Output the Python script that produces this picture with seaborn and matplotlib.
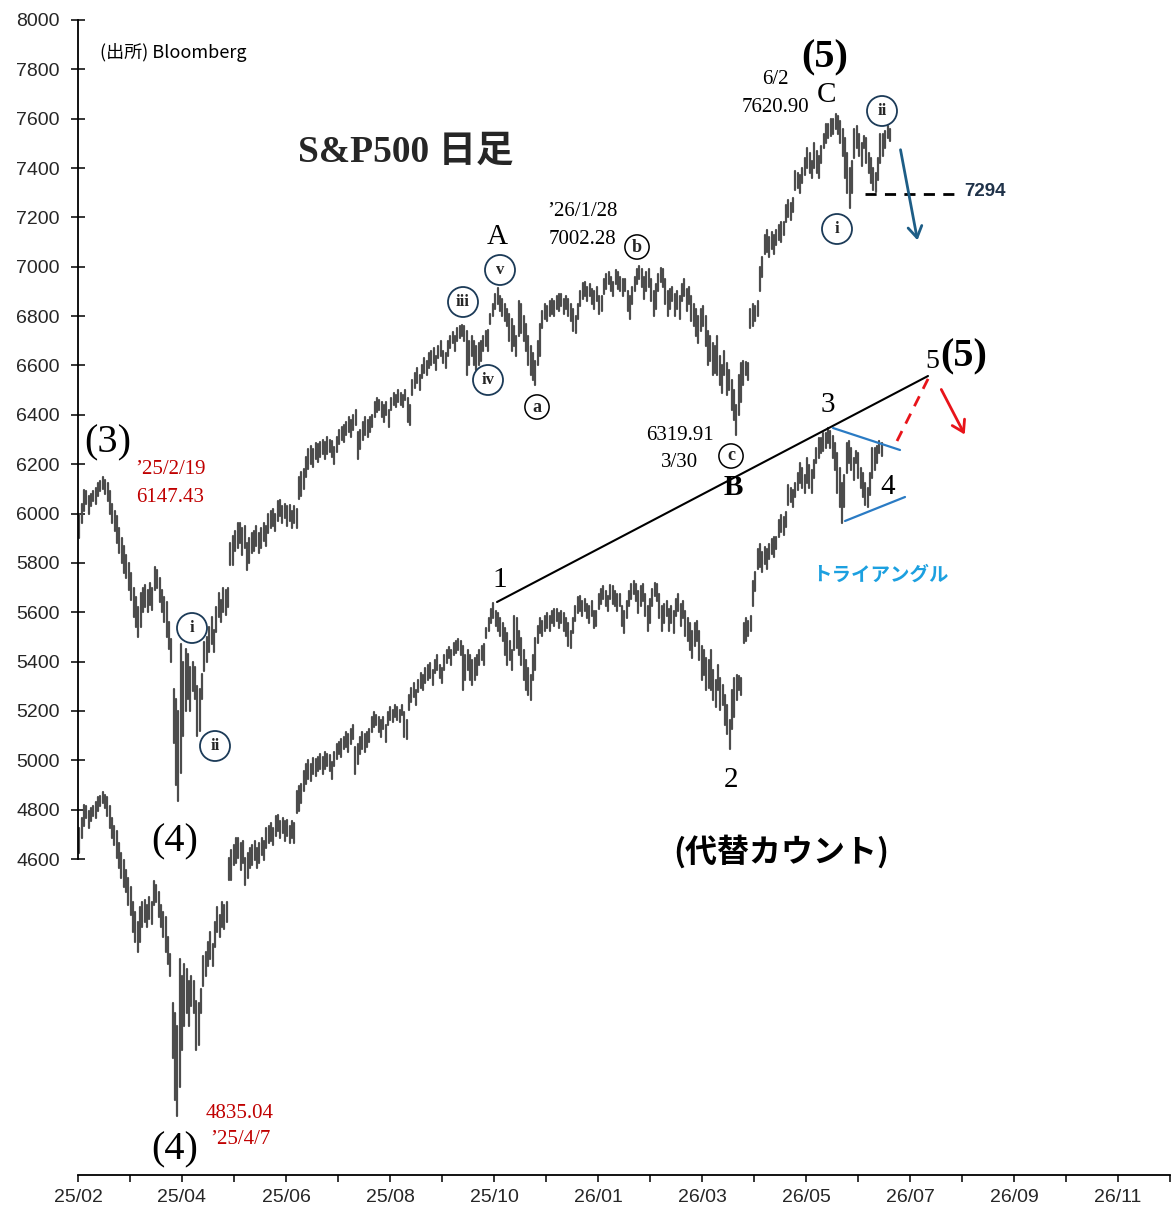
import numpy as np
import pandas as pd
import matplotlib
matplotlib.use("Agg")
import matplotlib.pyplot as plt
import seaborn as sns

# ---------------- data (daily high / low of the index) ----------------
LOW = [5900, 5960, 6010, 6040, 6000, 6030, 6050, 6040, 6070, 6090,
       6100, 6080, 6050, 6000, 5960, 5930, 5880, 5840, 5800, 5760,
       5740, 5690, 5650, 5580, 5540, 5500, 5540, 5600, 5620, 5600,
       5630, 5610, 5690, 5700, 5640, 5600, 5560, 5500, 5450, 5400,
       5070, 4900, 4835, 4950, 5100, 5200, 5250, 5200, 5280, 5250,
       5100, 5120, 5250, 5360, 5400, 5440, 5470, 5440, 5520, 5580,
       5560, 5600, 5590, 5620, 5790, 5790, 5850, 5860, 5880, 5830,
       5860, 5770, 5800, 5840, 5850, 5870, 5840, 5860, 5890, 5870,
       5920, 5940, 5950, 5930, 5970, 5990, 5960, 5980, 5950, 5970,
       5940, 5960, 5940, 6060, 6070, 6100, 6150, 6180, 6200, 6190,
       6220, 6210, 6230, 6240, 6220, 6240, 6250, 6230, 6200, 6250,
       6280, 6300, 6290, 6320, 6330, 6310, 6340, 6360, 6220, 6260,
       6300, 6320, 6310, 6330, 6350, 6390, 6410, 6420, 6390, 6370,
       6400, 6350, 6420, 6440, 6430, 6450, 6440, 6430, 6460, 6370,
       6360, 6480, 6510, 6530, 6500, 6550, 6570, 6560, 6590, 6600,
       6610, 6580, 6630, 6640, 6610, 6590, 6640, 6670, 6690, 6660,
       6700, 6710, 6720, 6700, 6560, 6600, 6640, 6600, 6580, 6600,
       6620, 6660, 6680, 6660, 6770, 6800, 6830, 6850, 6820, 6800,
       6780, 6760, 6700, 6660, 6680, 6640, 6720, 6730, 6700, 6660,
       6600, 6560, 6540, 6521, 6600, 6640, 6750, 6790, 6780, 6800,
       6810, 6800, 6830, 6820, 6840, 6810, 6830, 6800, 6780, 6740,
       6730, 6790, 6840, 6870, 6880, 6860, 6880, 6850, 6830, 6860,
       6810, 6820, 6890, 6910, 6930, 6900, 6880, 6930, 6910, 6900,
       6880, 6900, 6820, 6790, 6850, 6900, 6930, 6950, 6920, 6870,
       6900, 6920, 6860, 6800, 6830, 6900, 6940, 6920, 6850, 6800,
       6830, 6860, 6800, 6830, 6790, 6860, 6880, 6820, 6850, 6780,
       6760, 6720, 6690, 6740, 6760, 6680, 6600, 6620, 6560, 6570,
       6560, 6520, 6490, 6560, 6480, 6500, 6420, 6380, 6320, 6400,
       6450, 6520, 6560, 6540, 6750, 6760, 6780, 6800, 6900, 6960,
       7050, 7060, 7040, 7070, 7050, 7090, 7110, 7100, 7130, 7180,
       7200, 7190, 7220, 7310, 7320, 7300, 7340, 7370, 7400, 7380,
       7360, 7400, 7380, 7360, 7420, 7480, 7500, 7520, 7530, 7540,
       7560, 7540, 7500, 7450, 7360, 7300, 7238, 7300, 7440, 7480,
       7450, 7410, 7480, 7420, 7380, 7340, 7310, 7303, 7350, 7420,
       7450, 7480, 7520, 7510]
HIGH = [6000, 6040, 6095, 6090, 6070, 6080, 6090, 6105, 6125, 6130,
        6147, 6135, 6125, 6090, 6040, 6010, 5990, 5940, 5900, 5870,
        5830, 5800, 5760, 5700, 5660, 5620, 5680, 5700, 5710, 5690,
        5720, 5700, 5785, 5770, 5740, 5690, 5660, 5640, 5560, 5490,
        5290, 5250, 5200, 5470, 5400, 5450, 5430, 5380, 5400, 5380,
        5300, 5290, 5350, 5480, 5500, 5540, 5580, 5530, 5620, 5680,
        5650, 5700, 5690, 5700, 5880, 5910, 5930, 5960, 5960, 5940,
        5950, 5880, 5900, 5920, 5930, 5950, 5920, 5940, 5960, 5950,
        6000, 6010, 6020, 6000, 6050, 6055, 6030, 6040, 6030, 6035,
        6010, 6030, 6020, 6150, 6170, 6180, 6230, 6260, 6275, 6260,
        6285, 6280, 6290, 6300, 6290, 6310, 6300, 6295, 6270, 6310,
        6340, 6350, 6360, 6370, 6390, 6380, 6400, 6420, 6330, 6340,
        6370, 6390, 6380, 6390, 6400, 6450, 6470, 6460, 6450, 6440,
        6450, 6420, 6470, 6490, 6480, 6500, 6490, 6480, 6500, 6470,
        6440, 6540, 6570, 6590, 6560, 6600, 6630, 6620, 6650, 6660,
        6670, 6640, 6680, 6700, 6660, 6650, 6700, 6720, 6735, 6720,
        6750, 6760, 6765, 6760, 6740, 6700, 6720, 6700, 6680, 6690,
        6700, 6720, 6740, 6745, 6810, 6850, 6890, 6914, 6880, 6870,
        6850, 6830, 6810, 6790, 6760, 6720, 6860, 6850, 6800, 6770,
        6720, 6680, 6650, 6620, 6700, 6770, 6820, 6850, 6840, 6860,
        6870, 6860, 6880, 6890, 6890, 6870, 6880, 6870, 6850, 6830,
        6800, 6850, 6900, 6935, 6940, 6920, 6930, 6910, 6900, 6920,
        6880, 6880, 6950, 6970, 6980, 6960, 6940, 6985, 6980, 6960,
        6950, 6950, 6900, 6880, 6920, 6960, 6990, 7002, 6990, 6960,
        6980, 6990, 6950, 6900, 6930, 6970, 6995, 6990, 6950, 6900,
        6910, 6920, 6890, 6900, 6880, 6930, 6950, 6910, 6920, 6880,
        6850, 6830, 6800, 6830, 6840, 6800, 6740, 6720, 6690, 6680,
        6720, 6640, 6600, 6660, 6610, 6580, 6540, 6500, 6440, 6560,
        6610, 6620, 6615, 6610, 6830, 6850, 6840, 6860, 7000, 7040,
        7130, 7150, 7120, 7140, 7130, 7150, 7170, 7180, 7180, 7250,
        7270, 7260, 7280, 7390, 7380, 7370, 7400, 7440, 7480, 7460,
        7430, 7500, 7470, 7450, 7490, 7540, 7580, 7580, 7600, 7600,
        7621, 7610, 7590, 7560, 7520, 7460, 7400, 7430, 7560, 7570,
        7540, 7500, 7530, 7520, 7460, 7440, 7400, 7380, 7440, 7540,
        7540, 7550, 7570, 7560]
ALT_OFFSET = 1275          # the alternate count copy is the same path shifted down
TICK_LABELS = ["25/02", "25/04", "25/06", "25/08", "25/10", "26/01",
               "26/03", "26/05", "26/07", "26/09", "26/11"]
Y_TICKS = list(range(4600, 8001, 200))

# ---------------- figure ----------------
sns.set_theme(style="white")
plt.rcParams["font.family"] = ["Liberation Sans", "Noto Sans CJK JP", "DejaVu Sans"]

W, H = 1173, 1213
fig = plt.figure(figsize=(W / 100, H / 100), dpi=100)
ax = fig.add_axes([78 / W, 38 / H, 1092 / W, 1155 / H])

BARS_PER_TICK = 44
n = len(HIGH)
rows = []
for i in range(n):
    xm = i + 0.5
    xa = (i + 0.5) * 0.99
    rows += [(xm, LOW[i], f"m{i}"), (xm, HIGH[i], f"m{i}"),
             (xa, LOW[i] - ALT_OFFSET, f"a{i}"), (xa, HIGH[i] - ALT_OFFSET, f"a{i}")]
df = pd.DataFrame(rows, columns=["x", "price", "bar"])
sns.lineplot(data=df, x="x", y="price", units="bar", estimator=None, sort=False,
             color="#4c4c4c", linewidth=1.6, ax=ax, legend=False)

ax.set_xlim(0, 462)
ax.set_ylim(3319.5, 8000)
ax.set_xlabel("")
ax.set_ylabel("")
ax.set_xticks([k * BARS_PER_TICK for k in range(len(TICK_LABELS))])
ax.set_xticklabels(TICK_LABELS, fontsize=14)
ax.set_xticks([BARS_PER_TICK / 2 + k * BARS_PER_TICK for k in range(len(TICK_LABELS))], minor=True)
ax.set_yticks(Y_TICKS)
ax.set_yticklabels([str(v) for v in Y_TICKS], fontsize=14)
ax.tick_params(axis="y", which="both", direction="inout", length=10, width=1.3, pad=8, left=True)
ax.tick_params(axis="x", which="both", direction="out", length=5, width=1.3, pad=5, bottom=True)
for s in ["top", "right"]:
    ax.spines[s].set_visible(False)
for s in ["left", "bottom"]:
    ax.spines[s].set_color("black")
    ax.spines[s].set_linewidth(1.3)
ax.spines["left"].set_bounds(4600, 8000)
ax.grid(False)

# ---------------- annotations (positions in figure pixels) ----------------
def F(px, py):
    return (px / W, 1 - py / H)

SERIF = ["Liberation Serif", "Noto Sans CJK JP", "DejaVu Serif"]
JP = ["Noto Sans CJK JP", "DejaVu Sans"]
RED = "#c00000"
NAVY = "#1b3a57"


def T(px, py, s, size, family=SERIF, weight="normal", color="black", ha="center", **kw):
    fig.text(*F(px, py), s, fontsize=size, family=family, fontweight=weight,
             color=color, ha=ha, va="center", **kw)


def circ(px, py, s):
    fig.text(*F(px, py), s, fontsize=12, family=SERIF, fontweight="bold", ha="center",
             va="center", bbox=dict(boxstyle="circle,pad=0.42", fc="white", ec=NAVY, lw=1.3))


def circ_letter(px, py, s):
    fig.text(*F(px, py), s, fontsize=13, family=SERIF, fontweight="bold", ha="center",
             va="center", bbox=dict(boxstyle="circle,pad=0.2", fc="white", ec="black", lw=1.1))


T(100, 53, "(出所) Bloomberg", 13, family=JP, ha="left")
fig.text(*F(406, 152), "S&P500 日足", fontsize=27, family=["Liberation Serif", "Noto Sans CJK JP"],
         fontweight="bold", ha="center", va="center")

T(108, 443, "(3)", 29)
T(170, 470, "\u201925/2/19", 15, color=RED)
T(170, 497, "6147.43", 15, color=RED)
T(175, 842, "(4)", 29)
T(175, 1150, "(4)", 29)
T(240, 1113, "4835.04", 15, color=RED)
T(240, 1140, "\u201925/4/7", 15, color=RED)

circ(192, 628, "i")
circ(215, 746, "ii")
circ(463, 302, "iii")
circ(488, 380, "iv")
circ(500, 270, "v")
circ(837, 229, "i")
circ(882, 111, "ii")
circ_letter(537, 407, "a")
circ_letter(637, 247, "b")
circ_letter(731, 456, "c")

T(497, 237, "A", 21)
T(582, 212, "\u201926/1/28", 15)
T(582, 239, "7002.28", 15)
T(825, 58, "(5)", 29, weight="bold")
T(775, 80, "6/2", 15)
T(775, 107, "7620.90", 15)
T(827, 95, "C", 21)
T(680, 436, "6319.91", 15)
T(680, 463, "3/30", 15)
T(733, 488, "B", 21, weight="bold")
T(500, 580, "1", 21)
T(731, 780, "2", 21)
T(828, 405, "3", 21)
T(888, 487, "4", 21)
T(932, 361, "5", 20)
T(964, 357, "(5)", 29, weight="bold")
T(880, 575, "トライアングル", 14, family=JP, weight="bold", color="#1ca0e0")
T(781, 852, "(代替カウント)", 23, family=JP, weight="bold")
T(985, 192, "7294", 13.5, family=["Liberation Sans"], weight="bold", color="#1f3249")

# 7294 support level
ax.hlines(7294, 333, 371, colors="black", linestyles=(0, (4, 3)), linewidth=2)


def seg(p0, p1, **kw):
    fig.add_artist(plt.Line2D([p0[0] / W, p1[0] / W], [1 - p0[1] / H, 1 - p1[1] / H],
                              transform=fig.transFigure, **kw))


def arrow(p0, p1, color):
    fig.add_artist(matplotlib.patches.FancyArrowPatch(
        F(*p0), F(*p1), transform=fig.transFigure, arrowstyle="->,head_length=8,head_width=5",
        color=color, lw=2, mutation_scale=1))


seg((497, 602), (928, 376), color="black", lw=1.5)
seg((833, 428), (900, 450), color="#2a7bc4", lw=1.6)
seg((845, 521), (905, 497), color="#2a7bc4", lw=1.6)
seg((897, 441), (931, 373), color="#e8141a", lw=2, linestyle=(0, (4, 3)))
arrow((900, 147), (918, 243), "#1d5d86")
arrow((940, 387), (966, 437), "#e8141a")

fig.savefig("out.png", dpi=100)
